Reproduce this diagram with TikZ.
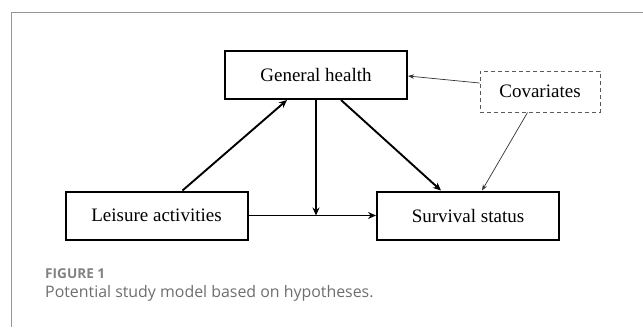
\documentclass[tikz,border=0pt]{standalone}
\usepackage{fontspec}
\setmainfont{Liberation Serif}
\newfontfamily\capfont{Open Sans}
\usetikzlibrary{arrows.meta,calc}
\definecolor{framegray}{RGB}{150,150,150}
\definecolor{capgray}{RGB}{110,110,110}
\definecolor{figgray}{RGB}{130,130,130}
\definecolor{dashgray}{RGB}{90,90,90}
\tikzset{
  boxnode/.style={draw=black, line width=2pt, minimum width=182pt, minimum height=48pt, inner sep=0pt, font=\fontsize{19}{22}\selectfont},
  covnode/.style={draw=dashgray, dash pattern=on 4pt off 3pt, line width=1pt, minimum width=120pt, minimum height=41pt, inner sep=0pt, font=\fontsize{19}{22}\selectfont},
  thickarrow/.style={line width=1.9pt, -{Stealth[length=8pt,width=7pt]}},
  thinarrow/.style={line width=0.7pt, draw=black!80, -{Stealth[length=6pt,width=4.5pt]}},
}
\begin{document}
\begin{tikzpicture}[x=1pt,y=-1pt]
\useasboundingbox (0,0) rectangle (643,327);
\draw[framegray, line width=0.8pt] (11,327) -- (11,12) -- (643,12);
\node[boxnode] (GH) at (316,75) {General health};
\node[boxnode] (LA) at (156.5,215.5) {Leisure activities};
\node[boxnode] (SS) at (468,215.5) {Survival status};
\node[covnode] (CV) at (540,91.5) {Covariates};
\coordinate (meet) at (GH.south |- LA.east);
\draw[thickarrow] ([xshift=118pt]LA.north west) -- ([xshift=63pt]GH.south west);
\draw[thickarrow] (GH.south) -- (meet);
\draw[thickarrow] (LA.east) -- (SS.west);
\draw[thickarrow] ([xshift=117pt]GH.south west) -- ([xshift=65pt]SS.north west);
\draw[thinarrow] ([yshift=8.5pt]CV.west) -- ([yshift=-1pt]GH.east);
\draw[thinarrow] ([xshift=48pt]CV.south west) -- ([xshift=106pt]SS.north west);
\node[anchor=base west, inner sep=0pt, text=figgray, font=\capfont\fontsize{13.6}{15}\selectfont\bfseries] (FIG) at (45,278) {FIGURE 1};
\node[anchor=base west, inner sep=0pt, text=capgray, font=\capfont\fontsize{15.9}{18}\selectfont] (CAP) at (45,297) {Potential study model based on hypotheses.};
\end{tikzpicture}
\end{document}
